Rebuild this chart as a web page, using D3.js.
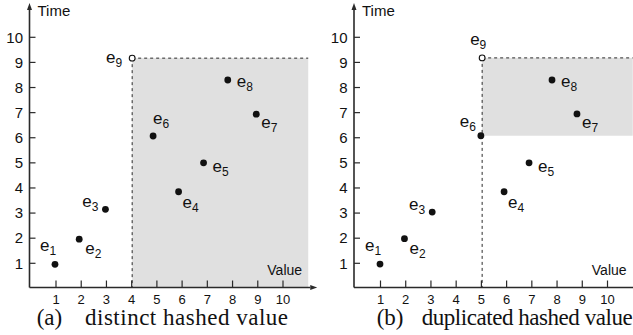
<!DOCTYPE html>
<html><head><meta charset="utf-8">
<script src="https://cdn.jsdelivr.net/npm/d3@7/dist/d3.min.js"></script>
<style>body{margin:0;background:#fff}svg{display:block}</style>
</head><body>
<svg id="c" width="633" height="335"></svg>
<script>
// ---- data ----
const labels = ["1","2","3","4","5","6","7","8","9"];
const valuesA = [0.96,1.92,2.96,5.86,6.85,4.85,8.94,7.81,4.02];
const timesA  = [0.96,1.96,3.15,3.85,5.00,6.07,6.94,8.30,9.17];
const valuesB = [0.98,1.95,3.05,5.90,6.89,4.98,8.79,7.80,5.03];
const timesB  = [0.97,1.98,3.04,3.85,5.00,6.08,6.95,8.30,9.18];
const xTicks = [1,2,3,4,5,6,7,8,9,10];
const yTicks = [1,2,3,4,5,6,7,8,9,10];
const captionTags = ["(a)","(b)"];
const captionTexts = ["distinct hashed value","duplicated hashed value"];
// shaded region bottom: index of event (null = axis)
const shadeBottomA = null;
const shadeBottomB = 5;

// label placement offsets [dx, dy, anchor]
const offA = [[-15,-13,"start"],[6,15,"start"],[-7,-2,"end"],[4,16,"start"],[9,9,"start"],[0,-12,"start"],[5,14,"start"],[9,7,"start"],[-10,5,"end"]];
const offB = [[-15,-13,"start"],[5,15,"start"],[-7,-2,"end"],[4,16,"start"],[9,9,"start"],[-5,-9,"end"],[5,14,"start"],[9,7,"start"],[-12,-13,"start"]];
// caption placement [tagX, textX, textLength]
const capA = [36.7, 85, 203];
const capB = [52.2, 97.2, 211];

const svg = d3.select("#c");
const AX = "#2a2a2a";
const SANS = "Liberation Sans, Arial, sans-serif";
const SERIF = "Liberation Serif, Times New Roman, serif";

function panel(shift, vals, times, offs, shadeBottom, tag, caption, cap) {
  const g = svg.append("g").attr("transform", `translate(${shift},0)`);
  const x = d3.scaleLinear().domain([1,10]).range([56,283]);
  const y = d3.scaleLinear().domain([1,10]).range([263.3,37.3]);
  const ax0 = 29.5, ay0 = 287.5;
  const n = vals.length - 1; // e9 index
  // shading
  const yb = shadeBottom == null ? ay0 : y(times[shadeBottom]);
  g.append("rect").attr("x", x(vals[n])).attr("y", y(times[n]))
    .attr("width", x(11) - x(vals[n])).attr("height", yb - y(times[n]))
    .attr("fill", "#e0e0e0");
  // dashed lines
  g.append("line").attr("x1", x(vals[n])).attr("x2", x(11)).attr("y1", y(times[n])).attr("y2", y(times[n]))
    .attr("stroke", AX).attr("stroke-width", 1).attr("stroke-dasharray", "3,3");
  g.append("line").attr("x1", x(vals[n])).attr("x2", x(vals[n])).attr("y1", y(times[n])).attr("y2", ay0)
    .attr("stroke", AX).attr("stroke-width", 1).attr("stroke-dasharray", "3,3");
  // axes
  g.append("line").attr("x1", ax0).attr("x2", ax0).attr("y1", ay0).attr("y2", 8).attr("stroke", AX).attr("stroke-width", 1.6);
  g.append("path").attr("d", `M${ax0},3 L${ax0-2.5},10 L${ax0+2.5},10 Z`).attr("fill", AX);
  g.append("line").attr("x1", ax0).attr("x2", x(11)+2).attr("y1", ay0).attr("y2", ay0).attr("stroke", AX).attr("stroke-width", 1.6);
  g.append("path").attr("d", `M${x(11)+9},${ay0} L${x(11)+2},${ay0-2.5} L${x(11)+2},${ay0+2.5} Z`).attr("fill", AX);
  // ticks
  g.selectAll(".xt").data(xTicks).enter().append("line")
    .attr("x1", d => x(d)).attr("x2", d => x(d)).attr("y1", ay0).attr("y2", ay0 - 7)
    .attr("stroke", AX).attr("stroke-width", 1.2);
  g.selectAll(".xl").data(xTicks).enter().append("text")
    .attr("x", d => x(d)).attr("y", 304).attr("text-anchor", "middle")
    .attr("font-family", SANS).attr("font-size", 13).attr("fill", "#111")
    .text(d => d);
  g.selectAll(".yt").data(yTicks).enter().append("line")
    .attr("x1", ax0).attr("x2", ax0 + 6).attr("y1", d => y(d)).attr("y2", d => y(d))
    .attr("stroke", AX).attr("stroke-width", 1.2);
  g.selectAll(".yl").data(yTicks).enter().append("text")
    .attr("x", 23).attr("y", d => y(d) + 5.3).attr("text-anchor", "end")
    .attr("font-family", SANS).attr("font-size", 15).attr("fill", "#111")
    .text(d => d);
  g.append("text").attr("x", 37.5).attr("y", 16).attr("font-family", SANS)
    .attr("font-size", 15).attr("fill", "#111").text("Time");
  g.append("text").attr("x", 267.3).attr("y", 275).attr("font-family", SANS)
    .attr("font-size", 14).attr("fill", "#111").text("Value");
  // points
  g.selectAll(".pt").data(vals).enter().append("circle")
    .attr("cx", (d,i) => x(d)).attr("cy", (d,i) => y(times[i]))
    .attr("r", (d,i) => i === n ? 2.9 : 3.4)
    .attr("fill", (d,i) => i === n ? "#fff" : "#111")
    .attr("stroke", "#111").attr("stroke-width", (d,i) => i === n ? 1.1 : 0);
  // labels
  labels.forEach((lab, i) => {
    const t = g.append("text").attr("x", x(vals[i]) + offs[i][0]).attr("y", y(times[i]) + offs[i][1])
      .attr("text-anchor", offs[i][2]).attr("font-family", SANS).attr("fill", "#111");
    t.append("tspan").attr("font-size", 17).text("e");
    t.append("tspan").attr("font-size", 12).attr("dy", 4).text(lab);
  });
  // caption
  g.append("text").attr("x", cap[0]).attr("y", 324.5).attr("font-family", SERIF)
    .attr("font-size", 23).attr("fill", "#111").text(tag);
  g.append("text").attr("x", cap[1]).attr("y", 324.5).attr("font-family", SERIF)
    .attr("font-size", 23).attr("fill", "#111").attr("textLength", cap[2]).attr("lengthAdjust", "spacing")
    .text(caption);
}

panel(0, valuesA, timesA, offA, shadeBottomA, captionTags[0], captionTexts[0], capA);
panel(324.5, valuesB, timesB, offB, shadeBottomB, captionTags[1], captionTexts[1], capB);
</script>
</body></html>
